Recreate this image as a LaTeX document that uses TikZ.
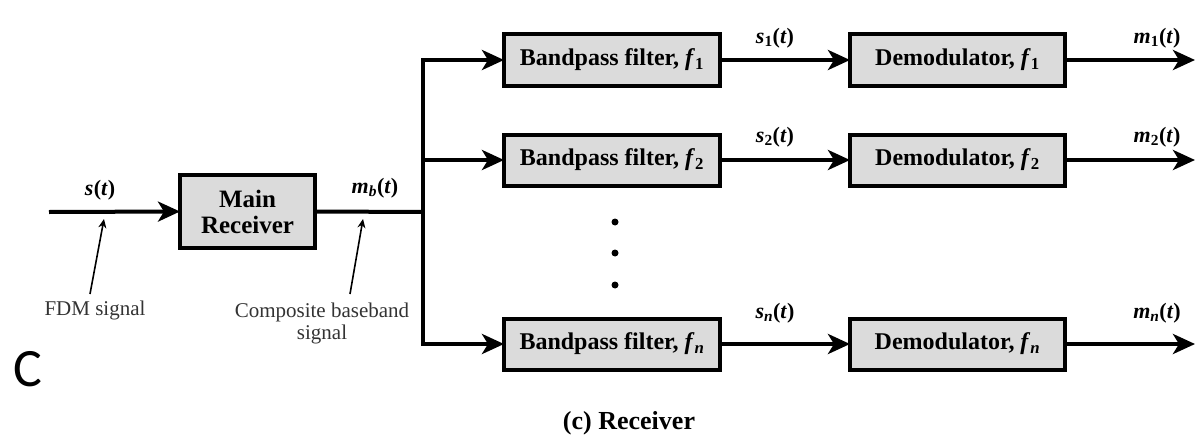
\documentclass[tikz,border=0pt]{standalone}
\usepackage{fontspec}
\setmainfont{Liberation Serif}
\newfontfamily\capfont{Carlito}
\usetikzlibrary{arrows.meta}

% signal names: bold italic variable with optional subscript
\newcommand{\sigl}[2]{\textbf{\textit{#1}\textsubscript{#2}(\textit{t})}}

\begin{document}
\begin{tikzpicture}[x=1pt,y=-1pt,
  block/.style={draw=black,line width=4pt,fill=gray!28,inner sep=0pt,outer sep=0pt,
    font=\fontsize{24}{27}\selectfont\bfseries,align=center},
  bpbox/.style={block,minimum width=216pt,minimum height=51pt},
  dmbox/.style={block,minimum width=215pt,minimum height=51pt},
  wire/.style={line width=4pt},
  flow/.style={wire,-{Stealth[length=22pt,width=20pt,inset=6pt]}},
  note/.style={line width=1.6pt,-{Stealth[length=9pt,width=8pt]}},
  siglabel/.style={font=\fontsize{22}{24}\selectfont},
  small/.style={font=\fontsize{21}{22}\selectfont,align=center,text=black!80},
]
\useasboundingbox (0,0) rectangle (1196,436);

% main receiver and its input
\node[block,minimum width=135pt,minimum height=73pt,font=\fontsize{25}{28}\selectfont\bfseries] (main) at (247.5,211.5) {Main\\[-2pt]Receiver};
\coordinate (in) at (49,212);
\draw[flow] (in) -- (main.west);

% branch filters and demodulators
\node[bpbox] (bp1) at (612,60)  {Bandpass filter, \textit{f}\textsubscript{1}};
\node[bpbox] (bp2) at (612,160) {Bandpass filter, \textit{f}\textsubscript{2}};
\node[bpbox] (bpn) at (612,344) {Bandpass filter, \textit{f}\textsubscript{\textit{n}}};
\node[dmbox] (dm1) at (957.5,60)  {Demodulator, \textit{f}\textsubscript{1}};
\node[dmbox] (dm2) at (957.5,160) {Demodulator, \textit{f}\textsubscript{2}};
\node[dmbox] (dmn) at (957.5,344) {Demodulator, \textit{f}\textsubscript{\textit{n}}};

% distribution bus
\coordinate (bus) at (423,212);
\coordinate (bus1) at (423,60);
\coordinate (bus2) at (423,160);
\coordinate (busn) at (423,344);
\draw[wire] (main.east) -- (bus);
\draw[wire,line cap=rect] (bus1) -- (busn);
\draw[flow] (bus1) -- (bp1.west);
\draw[flow] (bus2) -- (bp2.west);
\draw[flow] (busn) -- (bpn.west);

% filter to demodulator
\draw[flow] (bp1.east) -- (dm1.west);
\draw[flow] (bp2.east) -- (dm2.west);
\draw[flow] (bpn.east) -- (dmn.west);

% outputs
\coordinate (o1) at (1195,60);
\coordinate (o2) at (1195,160);
\coordinate (on) at (1195,344);
\draw[flow] (dm1.east) -- (o1);
\draw[flow] (dm2.east) -- (o2);
\draw[flow] (dmn.east) -- (on);

% signal labels
\node[siglabel] (ls)  at (100,190) {\sigl{s}{}};
\node[siglabel] (lmb) at (375,188) {\sigl{m}{\textit{b}}};
\node[siglabel] (ls1) at (775,38)  {\sigl{s}{1}};
\node[siglabel] (ls2) at (775,137) {\sigl{s}{2}};
\node[siglabel] (lsn) at (775,313) {\sigl{s}{\textit{n}}};
\node[siglabel] (lm1) at (1157,38)  {\sigl{m}{1}};
\node[siglabel] (lm2) at (1157,137) {\sigl{m}{2}};
\node[siglabel] (lmn) at (1157,313) {\sigl{m}{\textit{n}}};

% elided branches
\fill (615,222) circle (3.5pt);
\fill (615,253) circle (3.5pt);
\fill (615,285) circle (3.5pt);

% annotations
\node[small] (fdm) at (95,310) {FDM signal};
\node[small] (comp) at (322,323) {Composite baseband\\signal};
\coordinate (fdmtip) at (104,219);
\coordinate (comptip) at (363,219);
\draw[note] (90,294) -- (fdmtip);
\draw[note] (350,294) -- (comptip);

% caption
\node[font=\fontsize{26}{28}\selectfont\bfseries] (cap) at (629,423) {(c) Receiver};
\node[font=\capfont\fontsize{54}{56}\selectfont] (letter) at (28,369) {C};
\end{tikzpicture}
\end{document}
